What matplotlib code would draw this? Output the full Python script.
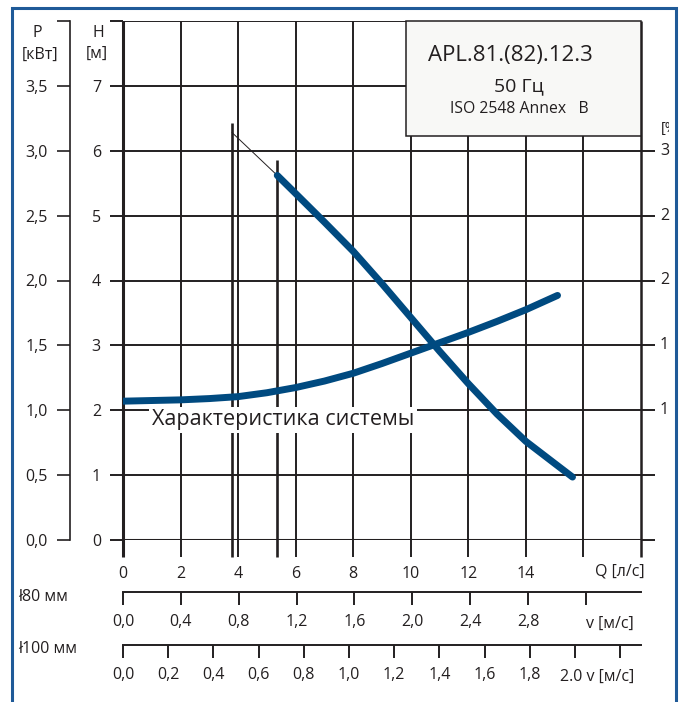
import numpy as np
import matplotlib
matplotlib.use("Agg")
import matplotlib.pyplot as plt
from matplotlib.patches import Rectangle
from matplotlib.transforms import Bbox, TransformedBbox, blended_transform_factory

plt.rcParams['font.family'] = ['Open Sans', 'DejaVu Sans']

# pump head curve H(Q), thick part
pump_q = [5.36, 6, 7, 8, 9, 10, 11, 12, 13, 14, 15, 15.62]
pump_h = [5.62, 5.34, 4.90, 4.45, 3.95, 3.43, 2.91, 2.41, 1.94, 1.52, 1.18, 0.97]
# thin extension to the left
ext_q = [3.79, 5.36]
ext_h = [6.28, 5.62]
# rising curve
sys_q = [0, 1, 2, 3, 4, 5, 6, 7, 8, 9, 10, 11, 12, 13, 14, 15.1]
sys_h = [2.14, 2.15, 2.16, 2.18, 2.21, 2.27, 2.35, 2.45, 2.57, 2.72, 2.88, 3.04, 3.20, 3.37, 3.55, 3.77]
# vertical marker lines
mark_q = [3.79, 5.36]
mark_top = [6.43, 5.85]

q_ticks = list(range(0, 19, 2))
q_labels = [str(q) for q in range(0, 15, 2)] + ['', '']
h_ticks = list(range(0, 9))
h_labels = [str(h) for h in range(0, 8)] + ['']
p_ticks = [0, 0.5, 1.0, 1.5, 2.0, 2.5, 3.0, 3.5, 4.0]
p_labels = ['0,0', '0,5', '1,0', '1,5', '2,0', '2,5', '3,0', '3,5', '']
eta_h = [6, 5, 4, 3, 2]
eta_labels = ['3', '2', '2', '1', '1']   # cut off by the frame in the source
v80 = [0.0, 0.4, 0.8, 1.2, 1.6, 2.0, 2.4, 2.8, 3.2]
v80_labels = ['0,0', '0,4', '0,8', '1,2', '1,6', '2,0', '2,4', '2,8', '']
v100 = [0.0, 0.2, 0.4, 0.6, 0.8, 1.0, 1.2, 1.4, 1.6, 1.8, 2.0, 2.2]
v100_labels = ['0,0', '0,2', '0,4', '0,6', '0,8', '1,0', '1,2', '1,4', '1,6', '1,8', '', '']

W, H = 681, 702
DARK = '#231f20'
BLUE = '#004a80'
FS = 11.5


def fx(x):
    return x / W


def fy(y):
    return 1 - y / H


def q_from_v(v, d):
    # flow in l/s for velocity v in a pipe of diameter d (m)
    return np.array(v) * np.pi * d ** 2 / 4 * 1000


fig = plt.figure(figsize=(W / 100, H / 100), dpi=100)

ax = fig.add_axes([fx(123), fy(540), fx(641) - fx(123), fy(21) - fy(540)])
ax.set_xlim(0, 18)
ax.set_ylim(0, 8)
for s in ax.spines.values():
    s.set_visible(False)

# grid
ax.vlines(q_ticks[1:-1], -0.26, 8, color=DARK, lw=1.4, clip_on=False, zorder=1)
ax.vlines([0], -0.26, 8, color=DARK, lw=2.2, clip_on=False, zorder=1)
ax.vlines([18], -0.26, 8, color=DARK, lw=1.8, clip_on=False, zorder=1)
ax.hlines(h_ticks[1:], 0, 18, color=DARK, lw=1.4, zorder=1)
ax.hlines([0], 0, 18, color=DARK, lw=2.2, zorder=1)
ax.vlines(mark_q, -0.26, mark_top, color=DARK, lw=1.9, clip_on=False, zorder=2)

ax.set_yticks(h_ticks)
ax.set_yticklabels(h_labels)
ax.set_xticks(q_ticks)
ax.set_xticklabels(q_labels)
ax.tick_params(axis='y', direction='out', length=9.4, width=1.4, color=DARK,
               pad=6.5, labelsize=FS, labelcolor=DARK)
ax.tick_params(axis='x', length=0, pad=18.5, labelsize=FS, labelcolor=DARK)

# right ticks
ax2 = ax.twinx()
ax2.set_ylim(0, 8)
for s in ax2.spines.values():
    s.set_visible(False)
ax2.set_yticks(list(range(0, 7)))
ax2.set_yticklabels([''] * 7)
ax2.tick_params(axis='y', direction='out', length=10, width=1.4, color=DARK)

# curves
ax.plot(ext_q, ext_h, color=DARK, lw=0.7, zorder=3)
ax.plot(pump_q, pump_h, color=BLUE, lw=5, solid_capstyle='round', solid_joinstyle='round', zorder=4)
ax.plot(sys_q, sys_h, color=BLUE, lw=5, solid_capstyle='round', solid_joinstyle='round', zorder=4)

ax.text(1.0, 1.85, 'Характеристика системы', fontsize=15.5, color=DARK,
        va='center', ha='left', zorder=3,
        bbox=dict(fc='white', ec='none', pad=2))

# info box
ax.add_patch(Rectangle((9.84, 6.22), 8.16, 1.78, fc='#f8f8f6', ec=DARK, lw=1.1,
                       zorder=5, clip_on=False))
ax.text(13.45, 7.47, 'APL.81.(82).12.3', fontsize=16, color=DARK, ha='center', va='center', zorder=6)
ax.text(13.76, 7.0, '50 Гц', fontsize=14, color=DARK, ha='center', va='center', zorder=6)
ax.text(13.76, 6.64, 'ISO 2548 Annex   B', fontsize=11.3, color=DARK, ha='center', va='center', zorder=6)

# P axis
axp = fig.add_axes([fx(70), fy(540), 0.0005, fy(21) - fy(540)])
axp.set_ylim(0, 4)
axp.set_xticks([])
for k in ['top', 'right', 'bottom']:
    axp.spines[k].set_visible(False)
axp.spines['left'].set_linewidth(1.2)
axp.spines['left'].set_color(DARK)
axp.patch.set_visible(False)
axp.set_yticks(p_ticks)
axp.set_yticklabels(p_labels)
axp.tick_params(axis='y', direction='out', length=9.4, width=1.2, color=DARK,
                pad=6.5, labelsize=FS, labelcolor=DARK)

# velocity scales
for ypix, d, vs, labs in [(592, 0.08, v80, v80_labels), (645, 0.10, v100, v100_labels)]:
    av = fig.add_axes([fx(123), fy(ypix), fx(641) - fx(123), 0.0005])
    av.set_xlim(0, 18)
    av.set_yticks([])
    for k in ['top', 'right', 'left']:
        av.spines[k].set_visible(False)
    av.spines['bottom'].set_linewidth(1.4)
    av.spines['bottom'].set_color(DARK)
    av.patch.set_visible(False)
    av.set_xticks(q_from_v(vs, d))
    av.set_xticklabels(labs)
    av.tick_params(axis='x', direction='out', length=9.4, width=1.4, color=DARK,
                   pad=6.5, labelsize=FS, labelcolor=DARK)

# axis titles and labels
kw = dict(color=DARK, va='center')
fig.text(fx(37), fy(33), 'P', ha='center', fontsize=FS, **kw)
fig.text(fx(40), fy(55), '[кВт]', ha='center', fontsize=FS, **kw)
fig.text(fx(98), fy(33), 'H', ha='center', fontsize=FS, **kw)
fig.text(fx(97), fy(54), '[м]', ha='center', fontsize=FS, **kw)
fig.text(fx(645), fy(572), 'Q [л/с]', ha='right', fontsize=FS, **kw)
fig.text(fx(634), fy(624), 'v [м/с]', ha='right', fontsize=FS, **kw)
fig.text(fx(634), fy(677), '2.0 v [м/с]', ha='right', fontsize=FS, **kw)
fig.text(fx(18), fy(597), 'ł80 мм', ha='left', fontsize=FS, **kw)
fig.text(fx(18), fy(649), 'ł100 мм', ha='left', fontsize=FS, **kw)

# right labels (the source shows them cut by the frame)
tr = blended_transform_factory(fig.transFigure, ax.transData)
for h, lab in zip(eta_h, eta_labels):
    fig.text(fx(660), h, lab, transform=tr, ha='left', fontsize=FS, **kw)
clip = TransformedBbox(Bbox([[0, 0], [fx(669), 1]]), fig.transFigure)
t = fig.text(fx(661), 6.35, '[%', transform=tr, ha='left', fontsize=10.5, **kw)
t.set_clip_on(True)
t.set_clip_box(clip)

# blue frame
fig.patches.append(Rectangle((fx(12), -0.1), fx(676) - fx(12), fy(8) + 0.1,
                             transform=fig.transFigure, fill=False,
                             ec='#1f5a98', lw=2.2, clip_on=False))

fig.savefig('out.png', dpi=100)
